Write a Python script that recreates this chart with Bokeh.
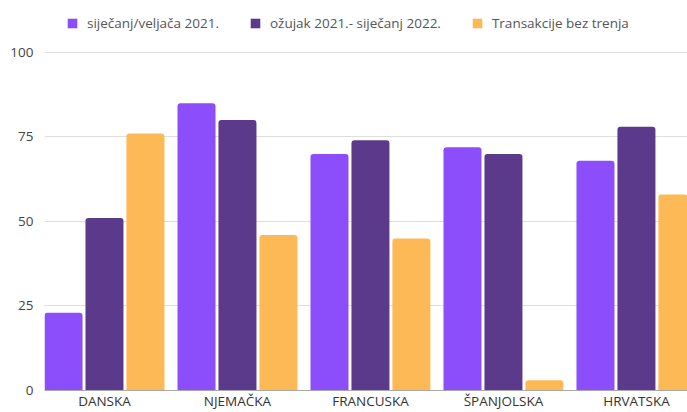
from bokeh.plotting import figure
from bokeh.models import Range1d, ColumnDataSource, Legend, LegendItem, Span
from bokeh.transform import dodge
from bokeh.core.properties import value
from bokeh.embed import file_html
from bokeh.resources import INLINE

categories = ["DANSKA", "NJEMAČKA", "FRANCUSKA", "ŠPANJOLSKA", "HRVATSKA"]
series_names = ["siječanj/veljača 2021.", "ožujak 2021.- siječanj 2022.", "Transakcije bez trenja"]
jan_feb_2021 = [23, 85, 70, 72, 68]
mar21_jan22 = [51, 80, 74, 70, 78]
frictionless = [76, 46, 45, 3, 58]
y_ticks = [0, 25, 50, 75, 100]
colors = ["#8C4DFB", "#5C3A8B", "#FDB955"]

src = ColumnDataSource(dict(
    x=[i + 0.5 for i in range(len(categories))],
    cat=categories,
    a=jan_feb_2021,
    b=mar21_jan22,
    c=frictionless,
))

W, H = 687, 412
p = figure(width=W, height=H, output_backend="svg", toolbar_location=None,
           x_range=Range1d(0.049, 4.884), y_range=Range1d(-6.51, 115.38),
           x_axis_location=None,
           min_border_left=44, min_border_right=0, min_border_top=0, min_border_bottom=0)
p.outline_line_color = None
p.xgrid.visible = False
p.ygrid.grid_line_color = "#dedede"
p.ygrid.grid_line_width = 1

p.yaxis.ticker = y_ticks
p.yaxis.axis_line_color = None
p.yaxis.major_tick_line_color = None
p.yaxis.major_tick_out = 0
p.yaxis.major_tick_in = 0
p.yaxis.minor_tick_line_color = None
p.yaxis.major_label_standoff = 11
p.yaxis.major_label_text_font = "Open Sans"
p.yaxis.major_label_text_font_size = "13.5px"
p.yaxis.major_label_text_color = "#444444"

offsets = [-0.308, 0.0, 0.308]
fields = ["a", "b", "c"]
renderers = []
for f, off, col in zip(fields, offsets, colors):
    r = p.vbar(x=dodge("x", off, range=p.x_range), top=f, width=0.2857, bottom=0,
               source=src, fill_color=col, line_color=None,
               border_radius=(3, 3, 0, 0))
    renderers.append(r)

p.add_layout(Span(location=0, dimension="width", line_color="#a8a8a8", line_width=1))

p.text(x="x", y=0, text="cat", source=src, text_align="center", text_baseline="top",
       y_offset=2, text_font=value("Open Sans"), text_font_size="13.5px", text_color="#333333")

legend = Legend(items=[LegendItem(label=n, renderers=[r]) for n, r in zip(series_names, renderers)],
                location=(22, 380), orientation="horizontal",
                padding=6, margin=0, spacing=30, label_standoff=9,
                glyph_width=12, glyph_height=12, label_height=16,
                label_text_font="Open Sans", label_text_font_size="13.5px",
                label_text_color="#555555", border_line_color=None, background_fill_alpha=0)
p.add_layout(legend, "center")

open("out.html", "w").write(file_html(p, INLINE))
